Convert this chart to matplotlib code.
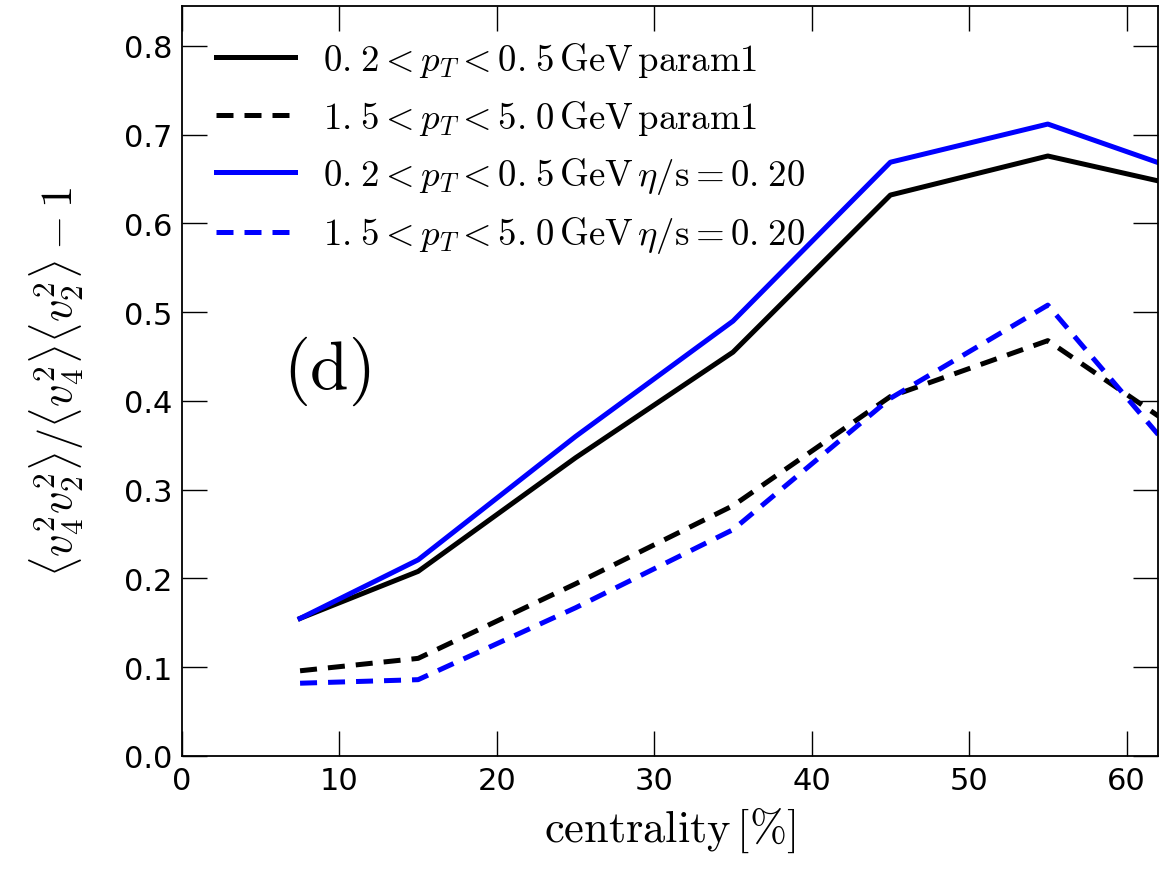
import matplotlib
matplotlib.use("Agg")
import matplotlib.pyplot as plt

plt.rcParams['mathtext.fontset'] = 'cm'
plt.rcParams['font.family'] = 'DejaVu Sans'

centrality = [7.5, 15, 25, 35, 45, 55, 65]
low_param1 = [0.155, 0.208, 0.336, 0.455, 0.632, 0.676, 0.636]
high_param1 = [0.096, 0.110, 0.194, 0.282, 0.405, 0.468, 0.347]
low_eta = [0.155, 0.221, 0.360, 0.490, 0.669, 0.712, 0.650]
high_eta = [0.082, 0.086, 0.167, 0.255, 0.403, 0.508, 0.300]

labels = [r'$0.\hspace{0.08}2<p_T<0.\hspace{0.08}5\,\mathrm{GeV}\,\mathrm{param1}$',
          r'$1.\hspace{0.08}5<p_T<5.\hspace{0.08}0\,\mathrm{GeV}\,\mathrm{param1}$',
          r'$0.\hspace{0.08}2<p_T<0.\hspace{0.08}5\,\mathrm{GeV}\,\eta/\mathrm{s}=0.\hspace{0.08}20$',
          r'$1.\hspace{0.08}5<p_T<5.\hspace{0.08}0\,\mathrm{GeV}\,\eta/\mathrm{s}=0.\hspace{0.08}20$']

fig = plt.figure(figsize=(11.73, 8.70), dpi=100)
ax = fig.add_axes([182/1173, 113/870, (1158-182)/1173, (757-7)/870])

lw = 3.6
dash = (3.4, 2.2)
ax.plot(centrality, low_param1, color='black', lw=lw, label=labels[0])
ax.plot(centrality, high_param1, color='black', lw=lw, dashes=dash, label=labels[1])
ax.plot(centrality, low_eta, color='blue', lw=lw, label=labels[2])
ax.plot(centrality, high_eta, color='blue', lw=lw, dashes=dash, label=labels[3])

ax.set_xlim(0, 62)
ax.set_ylim(0, 0.845)
ax.set_xticks(range(0, 61, 10))
ax.set_yticks([i / 10 for i in range(9)])
ax.tick_params(direction='in', length=18, width=1, top=True, right=True,
               labelsize=22, pad=7)
for s in ax.spines.values():
    s.set_linewidth(1.3)

ax.set_xlabel(r'$\mathrm{centrality}\,[\%]$', fontsize=32, labelpad=7)
ax.set_ylabel(r'$\langle v_4^2 v_2^2\rangle/\langle v_4^2\rangle\langle v_2^2\rangle-1$',
              fontsize=32, labelpad=27)

ax.text(6.4, 0.434, r'$\mathrm{(d)}$', fontsize=50, va='center', ha='left')

ax.legend(loc='upper left', fontsize=26.5, frameon=False, handlelength=2.15,
          handletextpad=0.75, labelspacing=0.5, borderaxespad=0.63,
          borderpad=0.3)

fig.savefig('out.png', dpi=100)
